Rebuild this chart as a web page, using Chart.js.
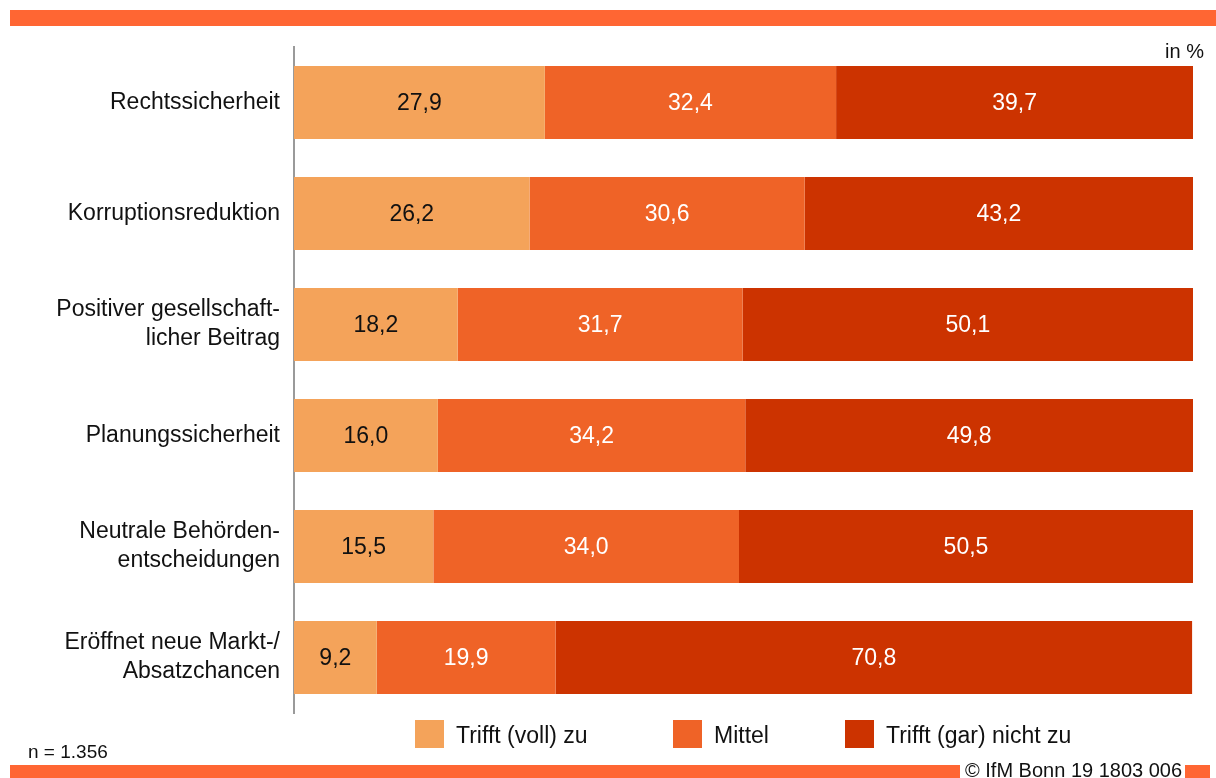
<!DOCTYPE html>
<html>
<head>
<meta charset="utf-8">
<script src="https://cdn.jsdelivr.net/npm/chart.js@4/dist/chart.umd.min.js"></script>
<style>
  html, body { margin: 0; padding: 0; background: #fff; }
  #wrap { width: 1216px; height: 778px; }
</style>
</head>
<body>
<div id="wrap"><canvas id="chart_ifm" width="1216" height="778"></canvas></div>
<script>
const categories = [
    ['Rechtssicherheit'],
    ['Korruptionsreduktion'],
    ['Positiver gesellschaft-', 'licher Beitrag'],
    ['Planungssicherheit'],
    ['Neutrale Behörden-', 'entscheidungen'],
    ['Eröffnet neue Markt-/', 'Absatzchancen']
];
const seriesNames = ['Trifft (voll) zu', 'Mittel', 'Trifft (gar) nicht zu'];
const trifftVoll = [27.9, 26.2, 18.2, 16.0, 15.5, 9.2];
const mittel = [32.4, 30.6, 31.7, 34.2, 34.0, 19.9];
const trifftNicht = [39.7, 43.2, 50.1, 49.8, 50.5, 70.8];
const colors = ['#F4A35A', '#EF6327', '#CC3300'];
const labelColors = ['#111', '#fff', '#fff'];

const FONT = '"Liberation Sans", Arial, sans-serif';

// values inside the segments
const valueLabels = {
    id: 'valueLabels',
    afterDatasetsDraw(chart) {
        const ctx = chart.ctx;
        ctx.save();
        ctx.font = '23px ' + FONT;
        ctx.textAlign = 'center';
        ctx.textBaseline = 'middle';
        chart.data.datasets.forEach((ds, i) => {
            chart.getDatasetMeta(i).data.forEach((bar, j) => {
                const p = bar.getProps(['x', 'y', 'base'], true);
                ctx.fillStyle = labelColors[i];
                ctx.fillText(ds.data[j].toFixed(1).replace('.', ','), (p.x + p.base) / 2, p.y + 1);
            });
        });
        ctx.restore();
    }
};

// frame: orange bands, legend, notes
const frame = {
    id: 'frame',
    afterDraw(chart) {
        const ctx = chart.ctx;
        ctx.save();
        ctx.fillStyle = '#FF6633';
        ctx.fillRect(10, 10, 1206, 16);
        ctx.fillRect(10, 765, 950, 13);
        ctx.fillRect(1185, 765, 25, 13);

        ctx.fillStyle = '#111';
        ctx.font = '20px ' + FONT;
        ctx.textBaseline = 'alphabetic';
        ctx.textAlign = 'right';
        ctx.fillText('in %', 1204, 58);
        ctx.textAlign = 'left';
        ctx.fillText('© IfM Bonn 19 1803 006', 965, 777);
        ctx.font = '19px ' + FONT;
        ctx.fillText('n = 1.356', 28, 758);

        // legend
        ctx.font = '23px ' + FONT;
        const legendX = [415, 673, 845];
        chart.data.datasets.forEach((ds, i) => {
            ctx.fillStyle = ds.backgroundColor;
            ctx.fillRect(legendX[i], 720, 29, 28);
            ctx.fillStyle = '#111';
            ctx.fillText(ds.label, legendX[i] + 41, 743);
        });
        ctx.restore();
    }
};

const ctx = document.querySelector('#chart_ifm').getContext('2d');
const chart = new Chart(ctx, {
    type: 'bar',
    data: {
        labels: categories,
        datasets: [
            { label: seriesNames[0], data: trifftVoll, backgroundColor: colors[0] },
            { label: seriesNames[1], data: mittel, backgroundColor: colors[1] },
            { label: seriesNames[2], data: trifftNicht, backgroundColor: colors[2] }
        ]
    },
    options: {
        indexAxis: 'y',
        responsive: false,
        animation: false,
        layout: {
            padding: { top: 47, right: 23, bottom: 65, left: 0 }
        },
        datasets: {
            bar: { categoryPercentage: 1, barPercentage: 0.657, borderWidth: 0 }
        },
        scales: {
            x: {
                stacked: true,
                min: 0,
                max: 100,
                display: false
            },
            y: {
                stacked: true,
                grid: { display: false, drawTicks: false },
                border: { display: true, color: '#9a9a9a', width: 2 },
                ticks: {
                    color: '#111',
                    padding: 14,
                    font: { family: FONT, size: 23, lineHeight: 1.26 }
                },
                afterFit(scale) {
                    scale.width = 294;
                }
            }
        },
        plugins: {
            legend: { display: false },
            tooltip: { enabled: false },
            title: { display: false }
        }
    },
    plugins: [valueLabels, frame]
});
</script>
</body>
</html>
